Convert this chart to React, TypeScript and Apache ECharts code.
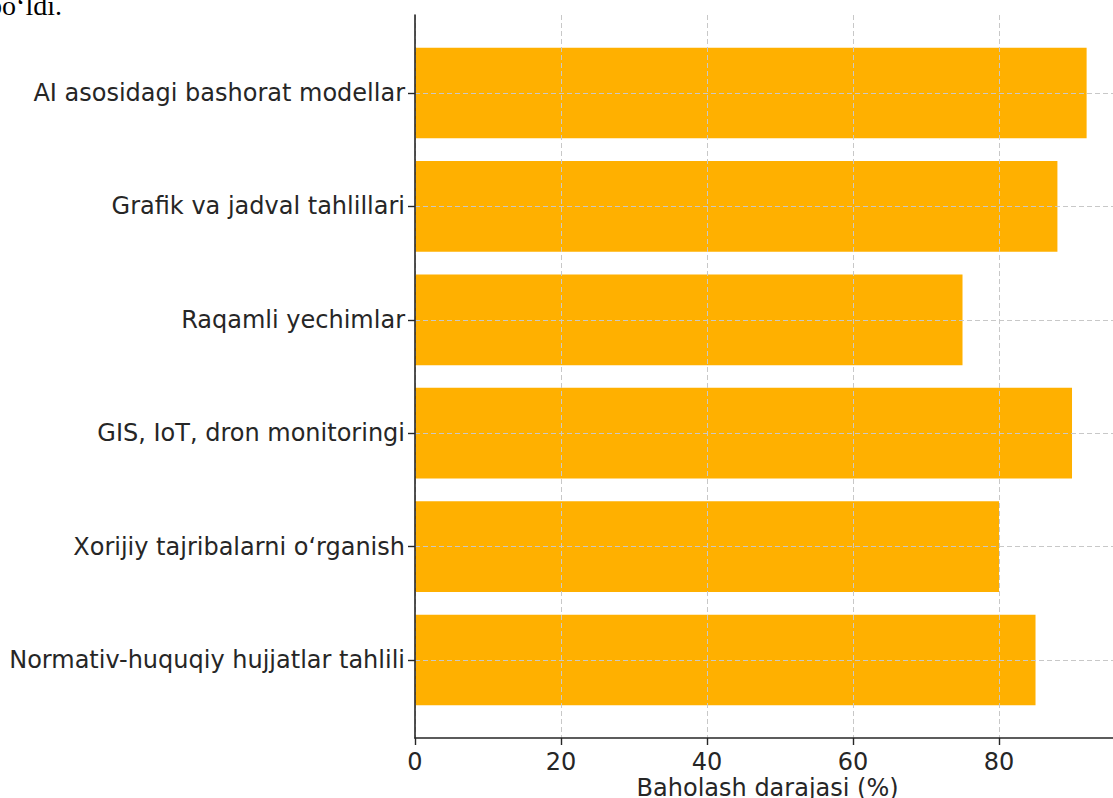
import React, { useEffect, useRef } from "react";
import * as echarts from "echarts";

const categories = [
  "Normativ-huquqiy hujjatlar tahlili",
  "Xorijiy tajribalarni o‘rganish",
  "GIS, IoT, dron monitoringi",
  "Raqamli yechimlar",
  "Grafik va jadval tahlillari",
  "AI asosidagi bashorat modellar",
];
const values = [85, 80, 90, 75, 88, 92];
const xMin = 0;
const xMax = 96.6;
const xInterval = 20;
const axisName = "Baholash darajasi (%)";
const topFragment = "bo‘ldi.";

const TEXT = "#262626";
const GRID = "#c8c8c8";
const BAR = "#FFB000";
const FONT = "DejaVu Sans";
const FS = 24;

export default function App() {
  const ref = useRef<HTMLDivElement>(null);
  useEffect(() => {
    if (!ref.current) return;
    const chart = echarts.init(ref.current, undefined, { renderer: "svg" });
    const option: any = {
      animation: false,
      backgroundColor: "#ffffff",
      grid: [
        { left: 415, top: 15, width: 705.2, height: 723, outerBoundsMode: "none", containLabel: false },
        { left: 415, top: 36.3, width: 705.2, height: 680.4, outerBoundsMode: "none", containLabel: false },
      ],
      xAxis: [
        {
          gridIndex: 0,
          type: "value",
          min: xMin,
          max: xMax,
          interval: xInterval,
          z: 5,
          axisLine: { show: true, onZero: false, lineStyle: { color: TEXT, width: 1.6 } },
          axisTick: { show: true, length: 7, lineStyle: { color: TEXT, width: 1.4 } },
          axisLabel: {
            showMaxLabel: false,
            fontSize: FS,
            color: TEXT,
            margin: 12,
            fontFamily: FONT,
          },
          splitLine: { show: true, lineStyle: { type: [5, 3], color: GRID, width: 1 } },
          name: axisName,
          nameLocation: "middle",
          nameGap: 38,
          nameMoveOverlap: false,
          nameTextStyle: { fontSize: FS, color: TEXT, fontFamily: FONT, verticalAlign: "top" },
        },
        { gridIndex: 1, type: "value", min: xMin, max: xMax, show: false },
      ],
      yAxis: [
        {
          gridIndex: 0,
          type: "value",
          min: -0.69,
          max: 5.69,
          z: 5,
          axisLine: { show: true, onZero: false, lineStyle: { color: TEXT, width: 1.6 } },
          axisTick: { show: false },
          axisLabel: { show: false },
          splitLine: { show: false },
        },
        {
          gridIndex: 1,
          type: "category",
          data: categories,
          axisLine: { show: false },
          axisTick: { show: true, alignWithLabel: true, length: 7, lineStyle: { color: TEXT, width: 1.4 } },
          axisLabel: { fontSize: FS, color: TEXT, margin: 10, fontFamily: FONT },
          splitLine: { show: false },
        },
      ],
      series: [
        {
          type: "bar",
          xAxisIndex: 1,
          yAxisIndex: 1,
          data: values,
          barWidth: "80%",
          itemStyle: { color: BAR },
          markLine: {
            silent: true,
            symbol: "none",
            label: { show: false },
            lineStyle: { type: [5, 3], color: GRID, width: 1 },
            data: categories.map((c) => ({ yAxis: c })),
          },
        },
      ],
      graphic: [
        {
          type: "text",
          x: 62,
          y: 19,
          style: {
            text: topFragment,
            fontSize: 28,
            fontFamily: "Liberation Serif",
            fill: "#000",
            align: "right",
            verticalAlign: "bottom",
          },
        },
      ],
    };
    chart.setOption(option);
    return () => chart.dispose();
  }, []);
  return (
    <div
      ref={ref}
      style={{ position: "absolute", left: 0, top: 0, width: 1113, height: 798 }}
    />
  );
}
